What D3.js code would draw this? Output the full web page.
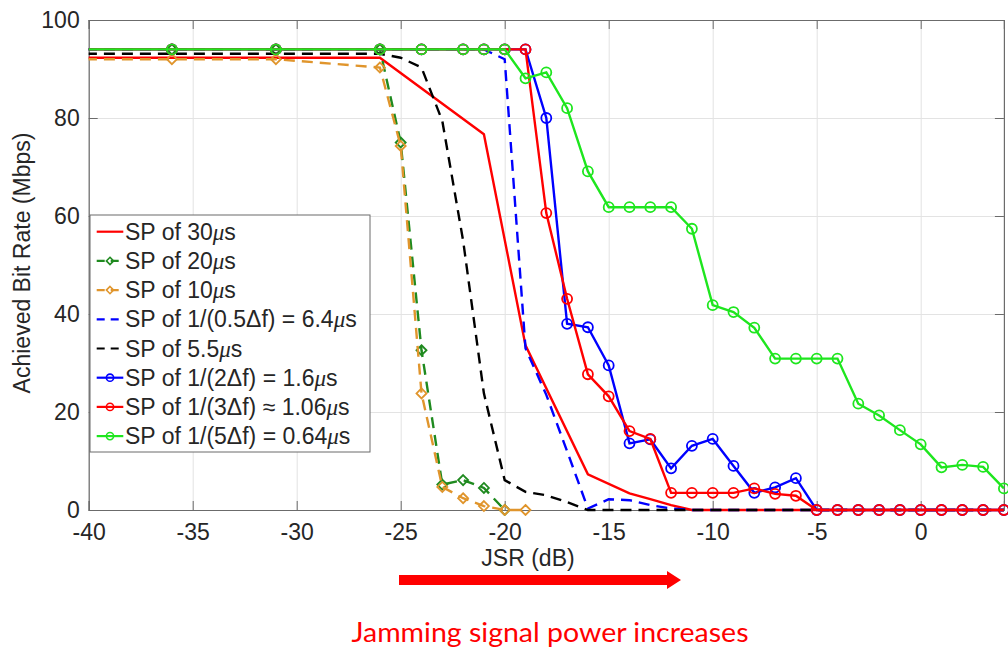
<!DOCTYPE html>
<html>
<head>
<meta charset="utf-8">
<script src="https://cdn.jsdelivr.net/npm/d3@7/dist/d3.min.js"></script>
<style>
	body { margin: 0; background: #ffffff; }
	text { font-family: "Liberation Sans", Arial, sans-serif; fill: #262626; }
</style>
</head>
<body>
<div id="chartContainer"></div>
<script>

// JSR values (dB) and achieved bit rates (Mbps)

let sp30Jsr		= [-41, -26, -21, -19, -16, -14, -13, -12, -11, 4],
	sp30Rate	= [92.3, 92.3, 76.7, 33.6, 7.3, 3.4, 2.2, 1.0, 0, 0];

let sp20Jsr		= [-41, -36, -31, -26, -25, -24, -23, -22, -21, -20],
	sp20Rate	= [94, 94, 94, 94, 75, 32.6, 5.2, 6.1, 4.5, 0];

let sp10Jsr		= [-41, -36, -31, -26, -25, -24, -23, -22, -21, -20, -19],
	sp10Rate	= [92, 92, 92, 90.3, 74.3, 23.8, 4.7, 2.4, 0.8, 0, 0];

let sp64Jsr		= [-41, -21, -20, -19, -18, -17, -16, -15, -14, -13, -12, -11, 4],
	sp64Rate	= [94, 94, 92, 33, 23.5, 12, 0.3, 2.2, 2.0, 1.0, 0.3, 0, 0];

let sp55Jsr		= [-41, -26, -25, -24, -23, -22, -21, -20, -19, -18, -17, -16, 4],
	sp55Rate	= [93.1, 93.1, 92.3, 90.3, 79.4, 55, 23.8, 6.1, 3.7, 3.0, 1.6, 0, 0];

// the three marked series share the same JSR steps
let fineJsr		= [-41, -36, -31, -26, -24, -22, -21, -20, -19, -18, -17, -16, -15, -14, -13, -12,
				   -11, -10, -9, -8, -7, -6, -5, -4, -3, -2, -1, 0, 1, 2, 3, 4];

let sp16Rate	= [94, 94, 94, 94, 94, 94, 94, 94, 94, 80.0, 38.0, 37.3, 29.5, 13.6, 14.4, 8.5,
				   13.1, 14.5, 9.0, 3.5, 4.6, 6.5, 0, 0, 0, 0, 0, 0, 0, 0, 0, 0];

let sp106Rate	= [94, 94, 94, 94, 94, 94, 94, 94, 94, 60.6, 43.1, 27.7, 23.2, 16.1, 14.5, 3.5,
				   3.5, 3.5, 3.5, 4.4, 3.3, 2.9, 0, 0, 0, 0, 0, 0, 0, 0, 0, 0];

let sp064Rate	= [94, 94, 94, 94, 94, 94, 94, 94, 88.1, 89.3, 82.0, 69.1, 61.8, 61.8, 61.8, 61.8,
				   57.4, 41.8, 40.4, 37.2, 30.9, 30.9, 30.9, 30.9, 21.7, 19.3, 16.3, 13.4, 8.7, 9.2, 8.8, 4.4];

let legendLabels = [
	"SP of 30μs",
	"SP of 20μs",
	"SP of 10μs",
	"SP of 1/(0.5Δf) = 6.4μs",
	"SP of 5.5μs",
	"SP of 1/(2Δf) = 1.6μs",
	"SP of 1/(3Δf) ≈ 1.06μs",
	"SP of 1/(5Δf) = 0.64μs"
];

let xTicks = [-40, -35, -30, -25, -20, -15, -10, -5, 0],
	yTicks = [0, 20, 40, 60, 80, 100];

let xLabel		= "JSR (dB)",
	yLabel		= "Achieved Bit Rate (Mbps)",
	arrowNote	= "Jamming signal power increases";


function init() {

	// pair the arrays up with their line styles
	let series = [
		{ x: sp30Jsr,	y: sp30Rate,	color: "#ff0000", dash: null,	marker: null },
		{ x: sp20Jsr,	y: sp20Rate,	color: "#1f8a1f", dash: "11,7",	marker: "diamond" },
		{ x: sp10Jsr,	y: sp10Rate,	color: "#e0952c", dash: "11,7",	marker: "diamond" },
		{ x: sp64Jsr,	y: sp64Rate,	color: "#0000ff", dash: "11,7",	marker: null },
		{ x: sp55Jsr,	y: sp55Rate,	color: "#000000", dash: "11,7",	marker: null },
		{ x: fineJsr,	y: sp16Rate,	color: "#0000ff", dash: null,	marker: "circle" },
		{ x: fineJsr,	y: sp106Rate,	color: "#ff0000", dash: null,	marker: "circle" },
		{ x: fineJsr,	y: sp064Rate,	color: "#1ee61e", dash: null,	marker: "circle" }
	];

	series.forEach(function (s, i) {
		s.label = legendLabels[i];
		s.points = s.x.map(function (v, j) { return [v, s.y[j]]; });
	});

	draw(series);
};


function draw (series) {

	let canvasWidth		= 1008,
		canvasHeight	= 655,
		plotLeft		= 88.7,
		plotTop			= 20,
		plotWidth		= 915.2,
		plotHeight		= 490;

	let svg = d3.select("#chartContainer")
		.append("svg")
			.attr("width", canvasWidth)
			.attr("height", canvasHeight);

	let plotGroup = svg.append("g")
		.attr("transform", "translate(" + plotLeft + "," + plotTop + ")");

	let xScale = d3.scaleLinear()
		.domain([-40, 4])
		.range([0, plotWidth]);

	let yScale = d3.scaleLinear()
		.domain([0, 100])
		.range([plotHeight, 0]);

	// grid /////////////////////////////////////////////////

	plotGroup.append("g")
		.attr("class", "grid")
		.attr("transform", "translate(0," + plotHeight + ")")
		.call(d3.axisBottom(xScale).tickValues(xTicks).tickSize(-plotHeight).tickFormat(""));

	plotGroup.append("g")
		.attr("class", "grid")
		.call(d3.axisLeft(yScale).tickValues(yTicks).tickSize(-plotWidth).tickFormat(""));

	plotGroup.selectAll(".grid .domain").remove();
	plotGroup.selectAll(".grid line")
		.attr("stroke", "#e3e3e3")
		.attr("stroke-width", 1);

	// axes, ticks pointing inwards on all four sides

	let tickLen = 9;

	let bottomAxis = plotGroup.append("g")
		.attr("transform", "translate(0," + plotHeight + ")")
		.call(d3.axisBottom(xScale).tickValues(xTicks).tickSize(-tickLen).tickPadding(14)
			.tickFormat(function (d) { return String(d); }));

	let leftAxis = plotGroup.append("g")
		.call(d3.axisLeft(yScale).tickValues(yTicks).tickSize(-tickLen).tickPadding(9)
			.tickFormat(function (d) { return String(d); }));

	let topAxis = plotGroup.append("g")
		.call(d3.axisTop(xScale).tickValues(xTicks).tickSize(-tickLen).tickFormat(""));

	let rightAxis = plotGroup.append("g")
		.attr("transform", "translate(" + plotWidth + ",0)")
		.call(d3.axisRight(yScale).tickValues(yTicks).tickSize(-tickLen).tickFormat(""));

	[bottomAxis, leftAxis, topAxis, rightAxis].forEach(function (ax) {
		ax.selectAll(".domain").attr("stroke", "#6b6b6b").attr("stroke-width", 1.2);
		ax.selectAll(".tick line").attr("stroke", "#6b6b6b").attr("stroke-width", 1);
		ax.selectAll("text")
			.style("font-size", "23px")
			.style("font-family", "'Liberation Sans', Arial, sans-serif")
			.attr("fill", "#262626");
	});

	// lines //////////////////////////////////////////////////

	svg.append("defs")
		.append("clipPath")
			.attr("id", "plotClip")
			.append("rect")
				.attr("x", 0)
				.attr("y", -6)
				.attr("width", plotWidth + 6)
				.attr("height", plotHeight + 12);

	let lineGen = d3.line()
		.x(function (d) { return xScale(d[0]); })
		.y(function (d) { return yScale(d[1]); });

	let dataGroup = plotGroup.append("g")
		.attr("clip-path", "url(#plotClip)");

	series.forEach(function (s) {

		let g = dataGroup.append("g");

		g.append("path")
			.attr("d", lineGen(s.points))
			.attr("fill", "none")
			.attr("stroke", s.color)
			.attr("stroke-width", 2.4)
			.attr("stroke-dasharray", s.dash);

		if (s.marker) {
			g.selectAll(".mark")
				.data(s.points.filter(function (d) { return d[0] >= -40; }))
				.enter()
					.append("path")
						.attr("d", markerPath(s.marker, 5))
						.attr("transform", function (d) {
							return "translate(" + xScale(d[0]) + "," + yScale(d[1]) + ")";
						})
						.attr("fill", "none")
						.attr("stroke", s.color)
						.attr("stroke-width", 1.8);
		}
	});

	// legend /////////////////////////////////////////////////

	let legend = svg.append("g")
		.attr("transform", "translate(90,215)");

	legend.append("rect")
		.attr("width", 280)
		.attr("height", 237)
		.attr("fill", "#ffffff")
		.attr("stroke", "#6b6b6b")
		.attr("stroke-width", 1);

	let rows = legend.selectAll(".row")
		.data(series)
			.enter()
				.append("g")
					.attr("transform", function (d, i) { return "translate(0," + (16.7 + i * 29.2) + ")"; });

	rows.append("line")
		.attr("x1", 6.7)
		.attr("x2", 33.3)
		.attr("stroke", function (d) { return d.color; })
		.attr("stroke-width", 2.2)
		.attr("stroke-dasharray", function (d) { return d.dash ? "8,6" : null; });

	rows.filter(function (d) { return d.marker; })
		.append("path")
			.attr("d", function (d) { return markerPath(d.marker, 3.6); })
			.attr("transform", "translate(20,0)")
			.attr("fill", "none")
			.attr("stroke", function (d) { return d.color; })
			.attr("stroke-width", 1.6);

	let labels = rows.append("text")
		.attr("x", 35)
		.attr("y", 8)
		.style("font-size", "23px")
		.attr("fill", "#111111");

	// mu is set in italic like the TeX interpreter does
	labels.each(function (d) {
		let parts = d.label.split("μ"),
			t = d3.select(this);

		t.append("tspan").text(parts[0]);
		t.append("tspan")
			.text("μ")
			.style("font-family", "'Liberation Serif', serif")
			.style("font-style", "italic");
		t.append("tspan").text(parts[1]);
	});

	// axis titles ////////////////////////////////////////////

	svg.append("text")
		.attr("x", 528)
		.attr("y", 566)
		.attr("text-anchor", "middle")
		.style("font-size", "23px")
		.text(xLabel);

	svg.append("text")
		.attr("transform", "translate(30,263) rotate(-90)")
		.attr("text-anchor", "middle")
		.style("font-size", "23px")
		.text(yLabel);

	// red annotation arrow under the axis

	svg.append("path")
		.attr("d", "M399,575 L667,575 L667,571 L681,580 L667,589 L667,585 L399,585 Z")
		.attr("fill", "#ff0000");

	svg.append("text")
		.attr("x", 550)
		.attr("y", 642)
		.attr("text-anchor", "middle")
		.attr("textLength", 397)
		.attr("lengthAdjust", "spacingAndGlyphs")
		.style("font-family", "Lato, 'Open Sans', sans-serif")
		.style("font-size", "27px")
		.style("fill", "#ff0000")
		.text(arrowNote);
};


function markerPath (type, r) {

	if (type === "diamond") {
		return "M0," + (-r) + " L" + r + ",0 L0," + r + " L" + (-r) + ",0 Z";
	}

	// circle
	return "M" + (-r) + ",0 A" + r + "," + r + " 0 1,0 " + r + ",0 A" + r + "," + r + " 0 1,0 " + (-r) + ",0";
};

init();

</script>
</body>
</html>
